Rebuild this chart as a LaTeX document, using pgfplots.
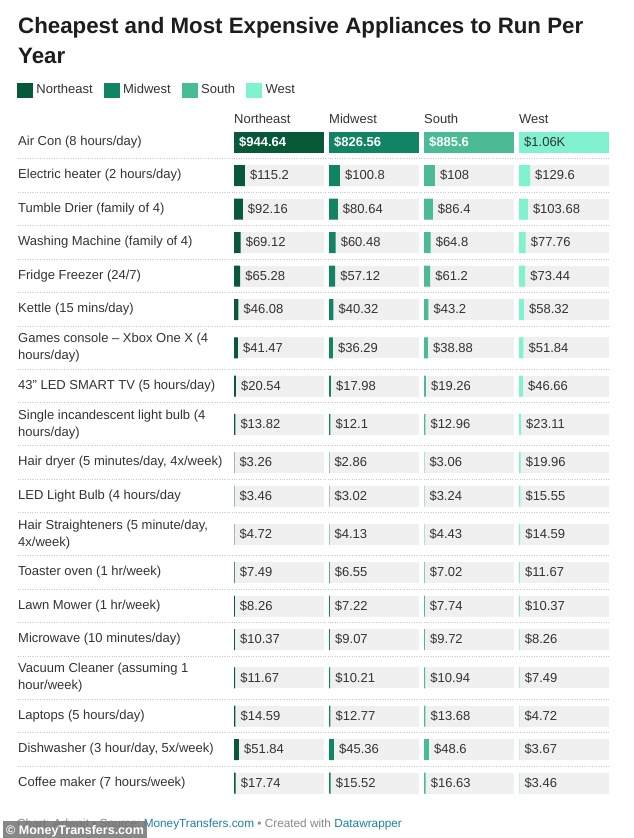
\documentclass[border=0pt]{standalone}
\usepackage{fontspec}
\setmainfont{Liberation Sans}
\usepackage{pgfplots}
\usepackage{pgfplotstable}
\pgfplotsset{compat=1.18}

\definecolor{cNE}{RGB}{8,88,58}
\definecolor{cMW}{RGB}{17,133,99}
\definecolor{cSO}{RGB}{74,187,149}
\definecolor{cWE}{RGB}{128,242,205}
\definecolor{cell}{RGB}{240,240,240}
\definecolor{txt}{RGB}{51,51,51}
\definecolor{ttl}{RGB}{29,29,29}
\definecolor{sep}{RGB}{200,200,200}
\definecolor{link}{RGB}{29,129,162}
\definecolor{foot}{RGB}{136,136,136}

\newcommand{\lab}{\fontsize{13}{17}\selectfont}

% y = row centre in px from the top; yearly running cost per region
\pgfplotstableread{
y      ne      mw      so      we
142    944.64  826.56  885.6   1060
}\aircon
\pgfplotstableread{
y       ne      mw      so      we
175.5   115.2   100.8   108     129.6
209     92.16   80.64   86.4    103.68
242.5   69.12   60.48   64.8    77.76
276     65.28   57.12   61.2    73.44
309.5   46.08   40.32   43.2    58.32
347.75  41.47   36.29   38.88   51.84
386     20.54   17.98   19.26   46.66
424.25  13.82   12.1    12.96   23.11
462.5   3.26    2.86    3.06    19.96
496     3.46    3.02    3.24    15.55
534.25  4.72    4.13    4.43    14.59
572.5   7.49    6.55    7.02    11.67
606     8.26    7.22    7.74    10.37
639.5   10.37   9.07    9.72    8.26
677.75  11.67   10.21   10.94   7.49
716     14.59   12.77   13.68   4.72
749.5   51.84   45.36   48.6    3.67
783     17.74   15.52   16.63   3.46
}\rows

\def\rowys{142,175.5,209,242.5,276,309.5,347.75,386,424.25,462.5,496,534.25,572.5,606,639.5,677.75,716,749.5,783}

\tikzset{
  head/.style={anchor=base west, inner sep=0pt, font=\lab, text=txt},
  inbar/.style={anchor=west, inner sep=0pt, xshift=5pt, font=\lab\bfseries, text=#1},
}
\pgfplotsset{
  region/.style={
    anchor=north west, scale only axis,
    width=90pt, height=838pt,
    xmin=0, ymin=0, ymax=838, y dir=reverse,
    axis line style={draw=none}, xtick=\empty,
    ytick=\rowys, yticklabels={}, major tick length=0pt,
    ymajorgrids, major grid style={draw=cell, line width=21pt},
    clip=false,
  },
  bars/.style={xbar, bar shift=0pt, bar width=21pt, draw=none, fill=#1},
  vals/.style={
    nodes near coords={\$\pgfplotspointmeta}, point meta=explicit symbolic,
    every node near coord/.append style={anchor=west, inner sep=0pt, xshift=5pt, font=\lab, text=txt}},
}

\begin{document}
\begin{tikzpicture}
\fill[white] (0,0) rectangle (634pt,-838pt);

\node[anchor=base west, inner sep=0pt, font=\bfseries\fontsize{22.3}{28}\selectfont, text=ttl]
  at (18pt,-33pt) {Cheapest and Most Expensive Appliances to Run Per};
\node[anchor=base west, inner sep=0pt, font=\bfseries\fontsize{22.3}{28}\selectfont, text=ttl]
  at (18pt,-63pt) {Year};

% row names, dotted separators and legend
\begin{axis}[
  at={(18pt,0pt)}, anchor=north west, scale only axis,
  width=592pt, height=838pt,
  xmin=0, xmax=1, ymin=0, ymax=838, y dir=reverse,
  axis line style={draw=none}, xtick=\empty,
  ytick=\rowys,
  yticklabels={
    Air Con (8 hours/day),
    Electric heater (2 hours/day),
    Tumble Drier (family of 4),
    Washing Machine (family of 4),
    Fridge Freezer (24/7),
    Kettle (15 mins/day),
    Games console – Xbox One X (4\\hours/day),
    43” LED SMART TV (5 hours/day),
    Single incandescent light bulb (4\\hours/day),
    {Hair dryer (5 minutes/day, 4x/week)},
    LED Light Bulb (4 hours/day,
    {Hair Straighteners (5 minute/day,\\4x/week)},
    Toaster oven (1 hr/week),
    Lawn Mower (1 hr/week),
    Microwave (10 minutes/day),
    Vacuum Cleaner (assuming 1\\hour/week),
    Laptops (5 hours/day),
    {Dishwasher (3 hour/day, 5x/week)},
    Coffee maker (7 hours/week)},
  yticklabel style={anchor=west, align=left, inner sep=0pt, font=\lab, text=txt},
  major tick length=0pt, minor tick length=0pt,
  minor ytick={158.75,192.25,225.75,259.25,292.75,326.25,369.25,402.75,445.75,479.25,512.75,555.75,589.25,622.75,656.25,699.25,732.75,766.25},
  yminorgrids,
  minor grid style={draw=sep, line width=0.8pt, dash pattern=on 0.8pt off 1.6pt},
  legend columns=4,
  legend image code/.code={\fill[#1] (0pt,-7pt) rectangle (15pt,7pt);},
  legend style={at={(axis cs:0,90)}, anchor=west, xshift=-1pt,
    draw=none, fill=none, inner sep=0pt, outer sep=0pt,
    font=\lab, text=txt, nodes={inner sep=0pt},
    /tikz/every odd column/.append style={column sep=4pt},
    /tikz/every even column/.append style={column sep=11pt}},
]
\addlegendimage{cNE}
\addlegendentry{Northeast}
\addlegendimage{cMW}
\addlegendentry{Midwest}
\addlegendimage{cSO}
\addlegendentry{South}
\addlegendimage{cWE}
\addlegendentry{West}
\end{axis}

\begin{axis}[region, at={(234pt,0pt)}, xmax=944.64]
\addplot[bars=cNE] table[x=ne, y=y] {\aircon};
\addplot[bars=cNE, vals] table[x=ne, y=y, meta=ne] {\rows};
\node[head] at (axis cs:0,123) {Northeast};
\node[inbar=white] at (axis cs:0,142) {\$944.64};
\end{axis}

\begin{axis}[region, at={(329pt,0pt)}, xmax=826.56]
\addplot[bars=cMW] table[x=mw, y=y] {\aircon};
\addplot[bars=cMW, vals] table[x=mw, y=y, meta=mw] {\rows};
\node[head] at (axis cs:0,123) {Midwest};
\node[inbar=white] at (axis cs:0,142) {\$826.56};
\end{axis}

\begin{axis}[region, at={(424pt,0pt)}, xmax=885.6]
\addplot[bars=cSO] table[x=so, y=y] {\aircon};
\addplot[bars=cSO, vals] table[x=so, y=y, meta=so] {\rows};
\node[head] at (axis cs:0,123) {South};
\node[inbar=white] at (axis cs:0,142) {\$885.6};
\end{axis}

\begin{axis}[region, at={(519pt,0pt)}, xmax=1060]
\addplot[bars=cWE] table[x=we, y=y] {\aircon};
\addplot[bars=cWE, vals] table[x=we, y=y, meta=we] {\rows};
\node[head] at (axis cs:0,123) {West};
\node[inbar=txt, font=\lab] at (axis cs:0,142) {\$1.06K};
\end{axis}

\node[anchor=base west, inner sep=0pt, font=\fontsize{11.8}{14}\selectfont]
  at (17pt,-827pt) {{\color{foot}Chart: Adwait • Source:}\ {\color{link}MoneyTransfers.com}\ {\color{foot}• Created with}\ {\color{link}Datawrapper}};
\fill[black!55, opacity=0.85] (3pt,-821pt) rectangle (147pt,-838pt);
\node[anchor=base west, inner sep=0pt, font=\bfseries\fontsize{12.5}{14}\selectfont, text=white]
  at (6pt,-834pt) {© MoneyTransfers.com};

\pgfresetboundingbox
\path (0,0) rectangle (634pt,-838pt);
\end{tikzpicture}
\end{document}
